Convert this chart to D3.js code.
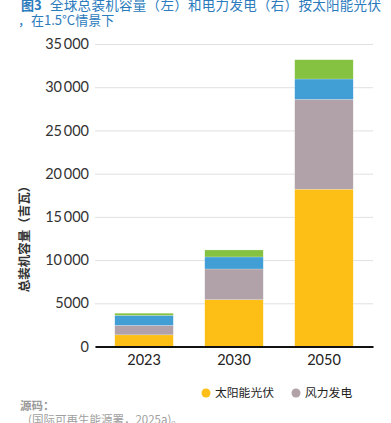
<!DOCTYPE html>
<html>
<head>
<meta charset="utf-8">
<script src="https://cdn.jsdelivr.net/npm/d3@7"></script>
<style>
  body { margin: 0; background: #fff; }
  svg { display: block; font-family: "Noto Sans CJK SC", "Noto Sans", sans-serif; }
</style>
</head>
<body>
<svg id="chart" width="391" height="423"></svg>
<script>
// values (GW)
const years = ["2023", "2030", "2050"];
const solar = [1350, 5420, 18200];
const wind = [1100, 3550, 10400];
const hydro = [1150, 1390, 2350];
const other = [250, 810, 2230];
const seriesNames = ["solar", "wind", "hydro", "other"];
const seriesColors = ["#fdbf16", "#b0a2a8", "#419fd6", "#86c242"];
const yTicks = [0, 5000, 10000, 15000, 20000, 25000, 30000, 35000];
const legendNames = ["太阳能光伏", "风力发电"];

const svg = d3.select("#chart");
const margin = {top: 44, right: 18, bottom: 77, left: 95};
const width = +svg.attr("width");
const height = +svg.attr("height");

rows = years.map((yr, i) => ({year: yr, solar: solar[i], wind: wind[i], hydro: hydro[i], other: other[i]}));
stacked = d3.stack().keys(seriesNames)(rows);

x = d3.scaleBand()
  .domain(years)
  .range([margin.left, width - margin.right])
  .paddingInner(0.35)
  .paddingOuter(0.22);

y = d3.scaleLinear()
  .domain([0, 35000])
  .range([346.5, 44]);

// title
svg.append("text")
  .attr("x", 21).attr("y", 10)
  .attr("fill", "#2b7bbd").attr("font-size", 13).attr("font-weight", "bold")
  .text("图3");
svg.append("text")
  .attr("x", 50).attr("y", 10)
  .attr("fill", "#2b7bbd").attr("font-size", 13.5)
  .attr("letter-spacing", 0.3)
  .text("全球总装机容量（左）和电力发电（右）按太阳能光伏");
svg.append("text")
  .attr("x", 18).attr("y", 25)
  .attr("fill", "#2b7bbd")
  .attr("font-size", 13)
  .text("，在1.5°C情景下");

// gridlines + y axis
const fmt = d => d >= 10000 ? d3.format(",")(d).replace(",", "\u2009") : String(d);
svg.append("g")
  .attr("transform", `translate(${margin.left},0)`)
  .call(d3.axisLeft(y).tickValues(yTicks).tickFormat(fmt)
    .tickSize(-(width - margin.right - margin.left)).tickPadding(6))
  .call(g => g.select(".domain").remove())
  .call(g => g.selectAll(".tick line").attr("stroke", "#e0e0e0"))
  .call(g => g.selectAll(".tick text")
    .attr("font-size", 14.5).attr("fill", "#333")
    .attr("font-family", "Lato, sans-serif"));

// bars
svg.append("g")
  .selectAll("g")
  .data(stacked)
  .join("g")
    .attr("fill", (d, i) => seriesColors[i])
  .selectAll("rect")
  .data(d => d)
  .join("rect")
    .attr("x", d => x(d.data.year))
    .attr("width", x.bandwidth())
    .attr("y", d => y(d[1]))
    .attr("height", d => y(d[0]) - y(d[1]))
    .attr("stroke", "#fff")
    .attr("stroke-opacity", 0.4)
    .attr("stroke-width", 0.5);

// x axis
svg.append("g")
  .attr("transform", `translate(0,${y(0)})`)
  .call(d3.axisBottom(x).tickSize(0).tickPadding(8))
  .call(g => g.select(".domain").attr("stroke", "#111").attr("stroke-width", 2))
  .call(g => g.selectAll(".tick text")
    .attr("font-size", 14.5).attr("fill", "#222")
    .attr("font-family", "Lato, sans-serif"));

// y label
svg.append("text")
  .attr("transform", "translate(29,236) rotate(-90)")
  .attr("text-anchor", "middle")
  .attr("font-size", 12.5)
  .attr("font-weight", "bold")
  .attr("fill", "#333")
  .text("总装机容量（吉瓦）");

// legend
const leg = svg.append("g")
  .selectAll("g")
  .data(legendNames)
  .join("g")
    .attr("transform", (d, i) => `translate(${206 + i * 90},393)`);
leg.append("circle").attr("r", 4.5).attr("fill", (d, i) => seriesColors[i]);
leg.append("text")
  .attr("x", 9).attr("dy", "0.35em")
  .attr("font-size", 11.8).attr("fill", "#222")
  .text(d => d);

// source
svg.append("text")
  .attr("x", 20).attr("y", 410)
  .attr("font-size", 11.5).attr("font-weight", "bold").attr("fill", "#999")
  .text("源码：");
svg.append("text")
  .attr("x", 28).attr("y", 424)
  .attr("font-size", 11.5).attr("fill", "#a0a0a0")
  .text("(国际可再生能源署，2025a)。");
</script>
</body>
</html>
